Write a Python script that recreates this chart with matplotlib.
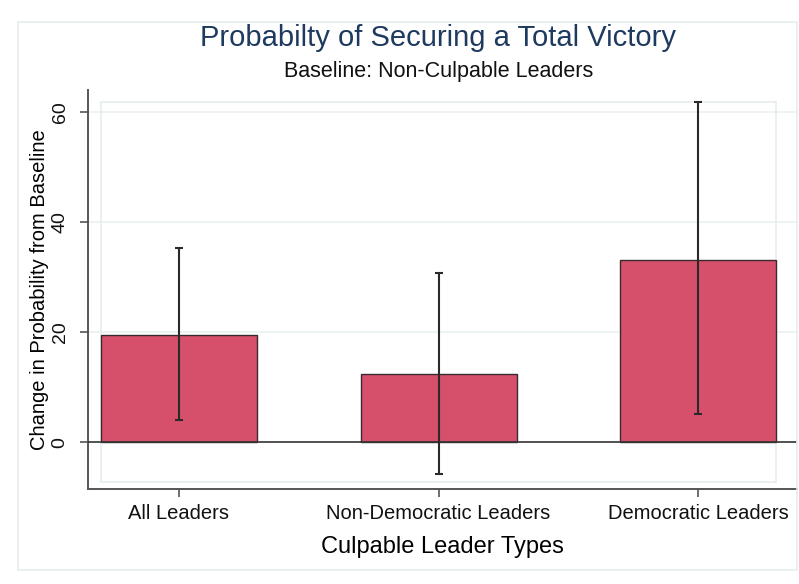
import matplotlib.pyplot as plt
from matplotlib.patches import Rectangle

categories = ["All Leaders", "Non-Democratic Leaders", "Democratic Leaders"]
estimates = [19.5, 12.4, 33.2]
ci_low = [4.0, -5.8, 5.1]
ci_high = [35.3, 30.7, 61.8]
yticks = [0, 20, 40, 60]

plt.rcParams['font.family'] = ['Liberation Sans', 'DejaVu Sans']

fig = plt.figure(figsize=(7.99, 5.84), dpi=100)
W, H = 799, 584

# outer frame of the graph region
fig.patches.append(Rectangle((18 / W, 1 - 570 / H), (797 - 18) / W, (570 - 22) / H,
                             transform=fig.transFigure, fill=False,
                             edgecolor='#e6eeee', lw=1.2))

ax = fig.add_axes([88 / W, 1 - 489 / H, (797 - 88) / W, (489 - 90) / H])

x = list(range(len(categories)))
yerr = [[e - l for e, l in zip(estimates, ci_low)],
        [h - e for e, h in zip(estimates, ci_high)]]

ax.set_xlim(-0.35, 2.38)
ax.set_ylim(-8.5, 64)

for y in yticks[1:]:
    ax.axhline(y, color='#eaf1f1', lw=1.2, zorder=0)
# plot region frame
ax.add_patch(Rectangle((-0.3, -7.3), 2.6, 69.1, fill=False, edgecolor='#e6eeee',
                       lw=1.2, zorder=0))

ax.bar(x, estimates, width=0.6, color='#d6506c', edgecolor='#3a2a2e', lw=1.0, zorder=2)
ax.axhline(0, color='#333333', lw=1.2, zorder=3)
ax.errorbar(x, estimates, yerr=yerr, fmt='none', ecolor='#2a2a2a', elinewidth=1.5,
            capsize=3, capthick=1.5, zorder=4)

ax.set_xticks(x)
ax.set_xticklabels(categories, fontsize=14.5)
ax.set_yticks(yticks)
ax.set_yticklabels([str(v) for v in yticks], rotation=90, va='center', fontsize=14)

for side in ['top', 'right']:
    ax.spines[side].set_visible(False)
for side in ['left', 'bottom']:
    ax.spines[side].set_color('#555555')
    ax.spines[side].set_linewidth(1.4)
ax.tick_params(axis='both', direction='out', length=6, width=1.2, color='#555555',
               labelcolor='#111111', pad=8)
ax.tick_params(axis='x', pad=5)

ax.set_ylabel("Change in Probability from Baseline", fontsize=14.5, labelpad=2)
ax.set_xlabel("Culpable Leader Types", fontsize=17, labelpad=9)

fig.text(438 / W, 1 - 38 / H, "Probabilty of Securing a Total Victory",
         ha='center', va='center', fontsize=21, color='#1e3a5f')
fig.text(439 / W, 1 - 72 / H, "Baseline: Non-Culpable Leaders",
         ha='center', va='center', fontsize=15.5, color='#111111')

fig.savefig("out.png", dpi=100)
